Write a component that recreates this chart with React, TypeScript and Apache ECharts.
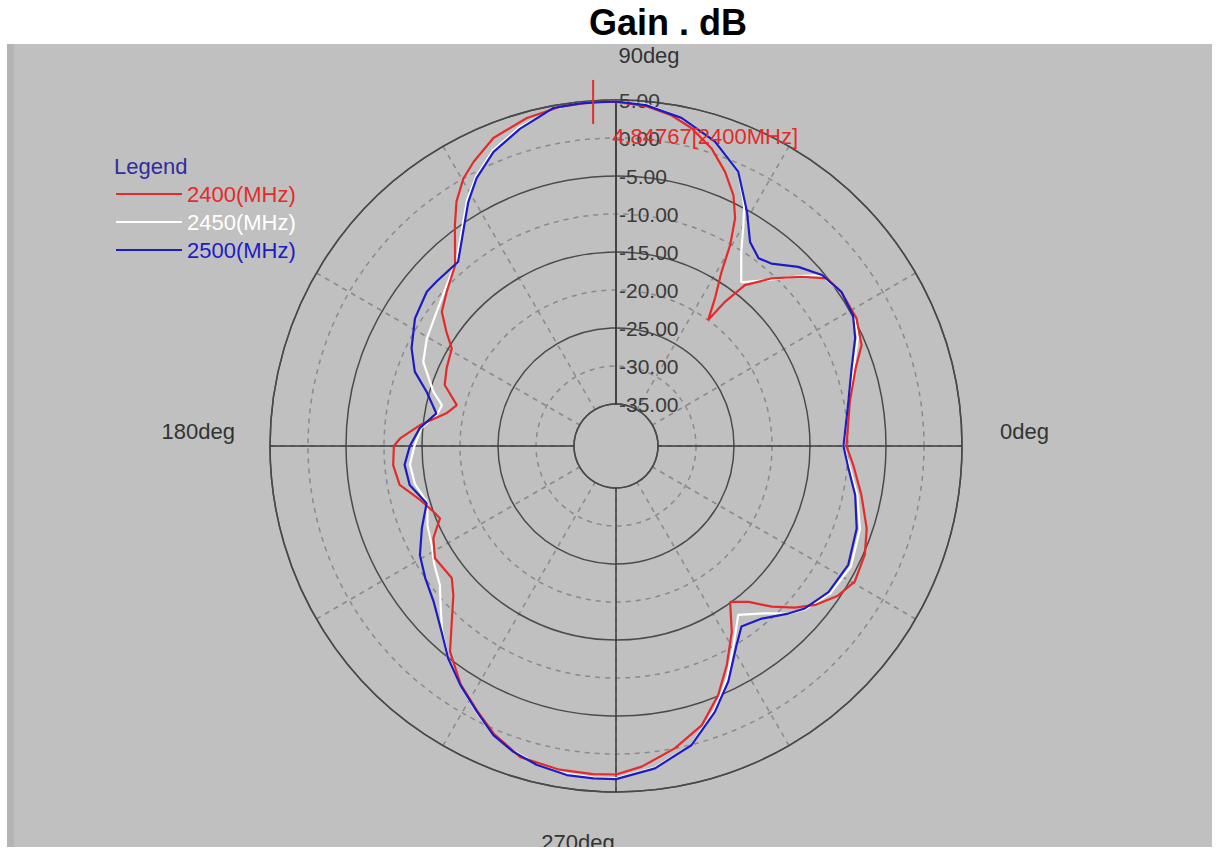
import React, { useEffect, useRef } from 'react';
import * as echarts from 'echarts';

// ---- data: [angle in degrees, gain in dB] ----
const seriesNames = ['2400(MHz)', '2450(MHz)', '2500(MHz)'];

const gain2400: [number, number][] = [
  [0, -10.2], [10.8, -9.2], [18.2, -7.3], [22.3, -5.6], [27.9, -4.7], [34.4, -4.6], [38.5, -5.1],
  [42.4, -7.5], [47.1, -10.4], [51.3, -13.4], [52.9, -16.7], [53.8, -20.0], [56.2, -17.1], [58.8, -13.7],
  [60.4, -10.1], [62.4, -6.7], [64.9, -4.1], [68.3, -1.7], [72.2, 0.6], [76.6, 2.45], [80.5, 3.6],
  [85, 4.4], [90, 4.75], [93.8, 4.85], [99.3, 4.7], [105.2, 4.2], [111.7, 3.1], [116.6, 1.3],
  [119.7, 0.0], [123.1, -2.1], [126.1, -4.55], [131.7, -8.7], [137.7, -10.4], [142.4, -11.6],
  [146, -13.6], [149.3, -15.4], [155.3, -16.0], [160.4, -16.6], [165.6, -18.9], [169.1, -17.8],
  [173.9, -14.6], [178, -12.1], [180, -11.3], [184.9, -11.1], [190.2, -11.6], [195.4, -13.8],
  [199.8, -15.0], [202.3, -15.5], [206.8, -13.6], [211.8, -12.5], [218.8, -12.8], [222.5, -11.5],
  [226.9, -8.9], [231.1, -5.75], [236.9, -3.1], [242.3, -1.2], [247, 0.6], [252.9, 2.3], [259.8, 2.7],
  [266, 2.75], [270, 2.7], [274.6, 1.8], [281, 0.0], [287.1, -2.1], [292.3, -5.1], [296.8, -8.2],
  [301.9, -11.7], [306.2, -15.1], [310.4, -13.6], [314.1, -11.1], [317.9, -8.8], [321.4, -7.0],
  [326, -5.3], [330.4, -4.4], [336.4, -4.8], [341.8, -5.8], [348.7, -7.6], [355.4, -9.2], [360, -10.2],
];

const gain2450: [number, number][] = [
  [0, -10.6], [10.8, -9.4], [18.2, -7.6], [24.3, -5.6], [28.9, -4.8], [34.4, -4.6], [39.7, -5.4],
  [42.4, -7.3], [47.5, -10.9], [52.6, -13.4], [57.2, -10.1], [60, -7.0], [62, -4.6], [66, -1.0],
  [72, 1.6], [78.7, 3.5], [85, 4.6], [90, 4.8], [96, 4.8], [100.5, 4.6], [106.8, 3.3], [112.6, 1.6],
  [117.5, -0.6], [121.2, -2.7], [125.5, -5.6], [130.6, -8.3], [136.4, -9.8], [143.2, -11.05],
  [150.4, -11.9], [156.4, -12.85], [163.4, -15.45], [166.8, -17.0], [170, -16.6], [174.8, -14.8],
  [180, -14.0], [185.1, -13.3], [190.7, -13.6], [196.8, -14.6], [202.9, -13.6], [208.2, -13.0],
  [213, -12.0], [218.3, -11.0], [223, -9.0], [226.8, -7.1], [231.7, -4.9], [236.9, -3.0],
  [242.3, -1.0], [247, 0.8], [251.4, 1.8], [256, 2.6], [261.5, 3.1], [266.1, 3.2], [270, 3.2],
  [276.9, 2.1], [284.2, 0.0], [290.4, -3.4], [295.5, -6.6], [301.2, -10.5], [305.9, -13.1],
  [311.7, -11.05], [315.8, -8.9], [319.3, -7.6], [325.5, -6.3], [332.9, -5.8], [341.1, -6.6],
  [348.4, -8.1], [354.5, -9.6], [360, -10.6],
];

const gain2500: [number, number][] = [
  [0, -10.6], [10.8, -9.4], [18.2, -7.9], [24.3, -6.0], [28.9, -4.9], [34.4, -4.6], [39.7, -5.3],
  [44.5, -6.9], [49.6, -9.0], [52.8, -9.5], [56.7, -8.4], [60.8, -5.2], [66, -1.0], [72, 1.6],
  [78.7, 3.5], [85, 4.5], [90, 4.8], [96, 4.8], [100.5, 4.7], [106.8, 3.1], [112.6, 1.4],
  [117.5, -0.8], [121.2, -3.0], [125.5, -5.9], [130.6, -8.6], [137.5, -8.5], [140.8, -8.4],
  [147.6, -9.2], [154.4, -10.7], [159.7, -12.3], [164, -14.6], [169.7, -16.5], [174.8, -14.6],
  [180, -13.4], [185.1, -12.6], [190.7, -12.9], [196.8, -14.5], [202.9, -12.8], [209.1, -11.0],
  [214.7, -10.0], [220.4, -9.0], [226.8, -7.0], [231.7, -4.9], [236.9, -3.0], [242.3, -1.1],
  [247, 0.8], [251.4, 1.9], [256, 2.7], [261.5, 3.25], [266.1, 3.3], [270, 3.3], [276.9, 2.2],
  [284.2, 0.05], [290.4, -3.2], [295.5, -6.2], [301.2, -9.9], [304.8, -11.6], [310.2, -10.8],
  [315.8, -8.9], [319.3, -7.75], [325.5, -6.6], [332.9, -6.2], [341.1, -7.05], [348.4, -8.4],
  [354.5, -9.8], [360, -10.6],
];

const radiusTicks = [-35, -30, -25, -20, -15, -10, -5, 0, 5];
const angleLabels = ['0deg', '90deg', '180deg', '270deg'];
const peakAngle = 93.8;
const peakGain = 4.84767;
const peakLabel = '4.84767[2400MHz]';

const FONT = '"Liberation Sans", Arial, sans-serif';
const COLORS = ['#e42a2a', '#ffffff', '#1c1cc4'];
const CX = 616;
const CY = 446;
const R0 = 42;
const R1 = 346;

export default function App() {
  const ref = useRef<HTMLDivElement>(null);

  useEffect(() => {
    document.body.style.margin = '0';
    if (!ref.current) return;
    const chart = echarts.init(ref.current, null, { renderer: 'svg' });

    const datasets = [gain2400, gain2450, gain2500];
    const order = [1, 0, 2];

    const option: any = {
      animation: false,
      backgroundColor: '#c0c0c0',
      title: [
        {
          text: 'Gain . dB',
          left: 668,
          top: 4,
          padding: 0,
          textAlign: 'center',
          z: 200,
          textStyle: { fontFamily: FONT, fontWeight: 'bold', fontSize: 36, color: '#000000' },
        },
        {
          text: 'Legend',
          left: 114,
          top: 155,
          padding: 0,
          textStyle: { fontFamily: FONT, fontWeight: 'normal', fontSize: 22, color: '#2e2e9c' },
        },
      ],
      legend: {
        orient: 'vertical',
        left: 116,
        top: 183,
        padding: 0,
        icon: 'rect',
        itemWidth: 66,
        itemHeight: 2,
        itemGap: 6,
        selectedMode: false,
        data: seriesNames.map((n, i) => ({ name: n, textStyle: { color: COLORS[i] } })),
        textStyle: { fontFamily: FONT, fontSize: 22 },
      },
      polar: [
        { center: [CX, CY], radius: [R0, R1] },
        { center: [CX, CY], radius: [R0, R1] },
      ],
      angleAxis: [
        {
          polarIndex: 0,
          type: 'value',
          min: 0,
          max: 360,
          interval: 30,
          startAngle: 0,
          clockwise: false,
          axisLine: { show: true, lineStyle: { color: '#4a4a4a', width: 1.5 } },
          axisTick: { show: false },
          axisLabel: { show: false },
          splitLine: { show: true, lineStyle: { color: '#8a8a8a', width: 1.5, type: [5, 5] } },
        },
        {
          polarIndex: 1,
          type: 'value',
          min: 0,
          max: 360,
          interval: 90,
          startAngle: 90,
          clockwise: false,
          z: 1,
          axisLine: { show: false },
          axisTick: { show: false },
          axisLabel: { show: false },
          splitLine: { show: true, lineStyle: { color: '#3c3c3c', width: 1.5 } },
        },
      ],
      radiusAxis: [
        {
          polarIndex: 0,
          type: 'value',
          min: radiusTicks[0],
          max: radiusTicks[radiusTicks.length - 1],
          interval: 5,
          axisLine: { show: false },
          axisTick: { show: false },
          axisLabel: { show: false },
          splitLine: {
            show: true,
            lineStyle: { color: ['rgba(0,0,0,0)', '#8a8a8a'], width: 1.5, type: [5, 5] },
          },
        },
        {
          polarIndex: 1,
          type: 'value',
          min: radiusTicks[0],
          max: radiusTicks[radiusTicks.length - 1],
          interval: 5,
          z: 1,
          axisLine: { show: true, lineStyle: { color: '#3c3c3c', width: 1.5 } },
          axisTick: { show: false },
          axisLabel: {
            show: true,
            showMinLabel: true,
            showMaxLabel: true,
            formatter: (v: number) => v.toFixed(2),
            fontFamily: FONT,
            fontSize: 21,
            color: '#3a3a3a',
            margin: -3,
            align: 'left',
            verticalAlign: 'middle',
          },
          splitLine: {
            show: true,
            lineStyle: { color: ['#4a4a4a', 'rgba(0,0,0,0)'], width: 1.5 },
          },
        },
      ],
      series: order.map((i) => ({
        name: seriesNames[i],
        type: 'line',
        coordinateSystem: 'polar',
        polarIndex: 0,
        symbol: 'none',
        z: 3,
        lineStyle: { color: COLORS[i], width: 2.2 },
        itemStyle: { color: COLORS[i] },
        data: datasets[i].map(([a, g]) => [g, a]),
        markPoint:
          i === 0
            ? {
                symbol: 'rect',
                symbolSize: [2, 44],
                itemStyle: { color: COLORS[0] },
                label: {
                  show: true,
                  formatter: peakLabel,
                  position: [20, 57],
                  align: 'left',
                  verticalAlign: 'middle',
                  fontFamily: FONT,
                  fontSize: 22,
                  color: COLORS[0],
                },
                data: [{ coord: [peakGain, peakAngle] }],
              }
            : undefined,
      })),
      graphic: [
        // angle labels
        { type: 'text', z: 100, style: { text: angleLabels[0], x: CX + R1 + 38, y: CY - 15, align: 'left', verticalAlign: 'middle', font: `22px ${FONT}`, fill: '#333333' } },
        { type: 'text', z: 100, style: { text: angleLabels[1], x: CX + 33, y: CY - R1 - 45, align: 'center', verticalAlign: 'middle', font: `22px ${FONT}`, fill: '#333333' } },
        { type: 'text', z: 100, style: { text: angleLabels[2], x: CX - R1 - 35, y: CY - 15, align: 'right', verticalAlign: 'middle', font: `22px ${FONT}`, fill: '#333333' } },
        { type: 'text', z: 100, style: { text: angleLabels[3], x: CX - 38, y: CY + R1 + 50, align: 'center', verticalAlign: 'middle', font: `22px ${FONT}`, fill: '#333333' } },
        // white page margins around the grey panel
        { type: 'rect', z: 150, shape: { x: 0, y: 0, width: 1218, height: 44 }, style: { fill: '#ffffff' } },
        { type: 'rect', z: 150, shape: { x: 0, y: 0, width: 7, height: 850 }, style: { fill: '#ffffff' } },
        { type: 'rect', z: 150, shape: { x: 0, y: 847, width: 1218, height: 3 }, style: { fill: '#ffffff' } },
        { type: 'rect', z: 150, shape: { x: 1212, y: 0, width: 6, height: 850 }, style: { fill: '#ffffff' } },
        { type: 'rect', z: 140, shape: { x: 7, y: 44, width: 7, height: 803 }, style: { fill: '#b4b4b4' } },
      ],
    };

    chart.setOption(option);
    return () => chart.dispose();
  }, []);

  return <div ref={ref} style={{ width: 1218, height: 850 }} />;
}
